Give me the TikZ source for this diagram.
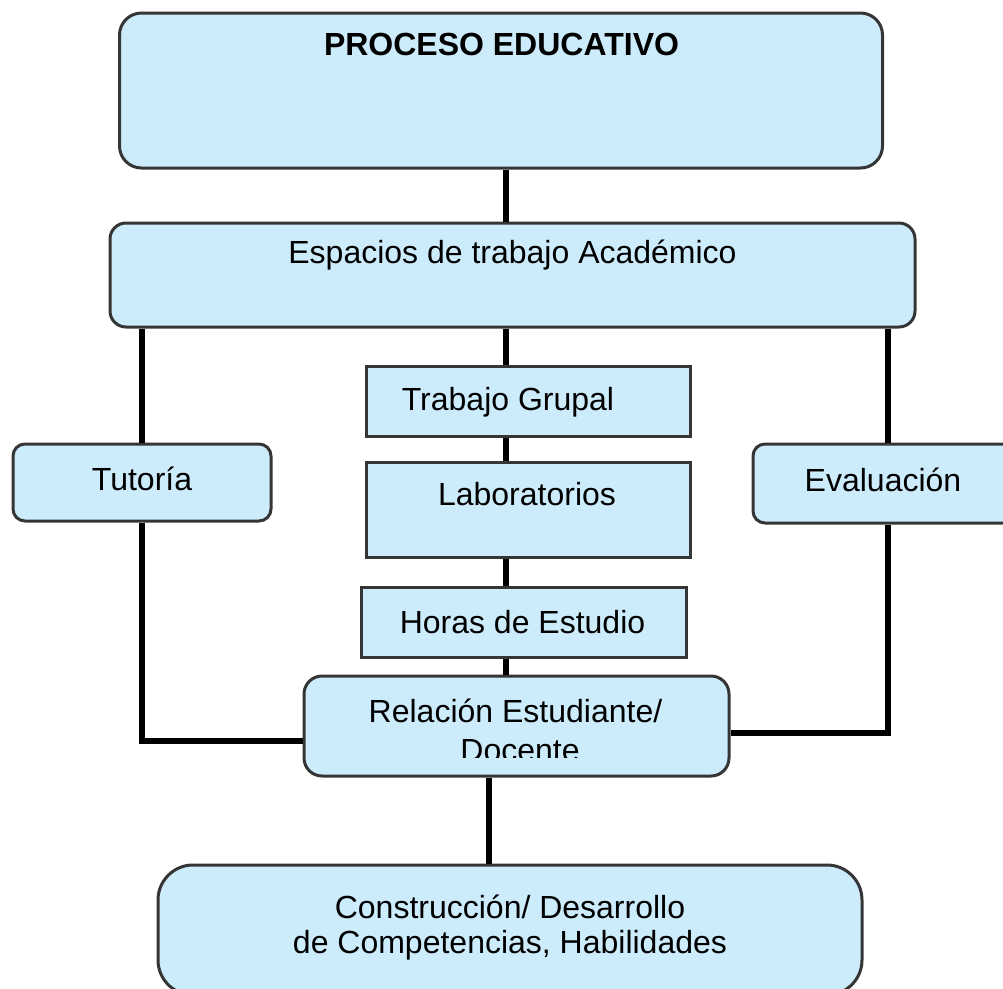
\documentclass[tikz,border=0pt]{standalone}
\usepackage{fontspec}
\setmainfont{Liberation Sans}
\definecolor{boxfill}{HTML}{CCEBFB}
\definecolor{boxline}{HTML}{353535}
\begin{document}
\begin{tikzpicture}[x=1pt,y=-1pt,
  box/.style={draw=boxline, fill=boxfill, line width=3pt, inner sep=0pt},
  conn/.style={line width=6pt, draw=black},
  lbl/.style={font=\fontsize{32}{36}\selectfont, anchor=base, inner sep=0pt, text=black}]
\useasboundingbox (0,0) rectangle (1003,988);
\clip (0,0) rectangle (1003,988);
% reference x/y positions for connectors
\coordinate (cx) at (506,0);
\coordinate (lx) at (142,0);
\coordinate (rx) at (888,0);
\coordinate (bx) at (489,0);
\coordinate (ly) at (0,741);
\coordinate (ry) at (0,733);
% boxes
\node[box, rounded corners=22pt, minimum width=763pt, minimum height=155pt] (top) at (501,90.5) {};
\node[box, rounded corners=16pt, minimum width=805pt, minimum height=104pt] (esp) at (512.5,275) {};
\node[box, minimum width=324pt, minimum height=70pt] (trab) at (528,401.5) {};
\node[box, minimum width=324pt, minimum height=95pt] (lab) at (528,509.5) {};
\node[box, minimum width=325pt, minimum height=70pt] (horas) at (523.5,622.5) {};
\node[box, rounded corners=18pt, minimum width=425pt, minimum height=100pt] (rel) at (516.5,726) {};
\node[box, rounded corners=12pt, minimum width=258pt, minimum height=77pt] (tut) at (142,482.5) {};
\node[box, rounded corners=12pt, minimum width=280pt, minimum height=79pt] (eva) at (893,483.5) {};
\node[box, rounded corners=35pt, minimum width=704pt, minimum height=130pt] (cons) at (510,930) {};
% connectors
\draw[conn] (top.south -| cx) -- (esp.north -| cx);
\draw[conn] (esp.south -| cx) -- (trab.north -| cx);
\draw[conn] (trab.south -| cx) -- (lab.north -| cx);
\draw[conn] (lab.south -| cx) -- (horas.north -| cx);
\draw[conn] (horas.south -| cx) -- (rel.north -| cx);
\draw[conn] (esp.south -| lx) -- (tut.north -| lx);
\draw[conn] (tut.south -| lx) |- (rel.west |- ly);
\draw[conn] (esp.south -| rx) -- (eva.north -| rx);
\draw[conn] (eva.south -| rx) |- (rel.east |- ry);
\draw[conn] (rel.south -| bx) -- (cons.north -| bx);
% texts
\node[lbl, font=\fontsize{32}{36}\selectfont\bfseries] (tTop) at (501.5,55) {PROCESO EDUCATIVO};
\node[lbl] (tEsp) at (512.5,263) {Espacios de trabajo Académico};
\node[lbl] (tTrab) at (508,410) {Trabajo Grupal};
\node[lbl] (tTut) at (142,490) {Tutoría};
\node[lbl] (tLab) at (527,505) {Laboratorios};
\node[lbl] (tEva) at (883,491) {Evaluación};
\node[lbl] (tHoras) at (522.5,633) {Horas de Estudio};
\node[lbl] (tRel) at (515.5,722) {Relación Estudiante/};
\begin{scope}
  \clip (300,690) rectangle (730,757);
  \node[lbl] (tDoc) at (520,761) {Docente};
\end{scope}
\node[lbl] (tCons1) at (510,918) {Construcción/ Desarrollo};
\node[lbl] (tCons2) at (510,953) {de Competencias, Habilidades};
\end{tikzpicture}
\end{document}
